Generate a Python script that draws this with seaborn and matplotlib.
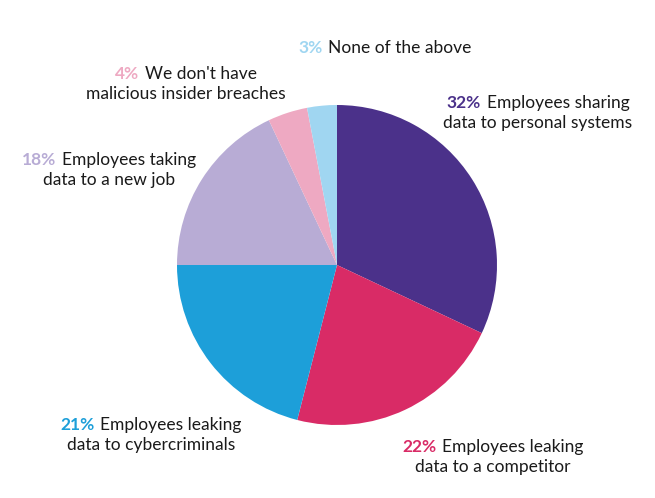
import matplotlib.pyplot as plt
import seaborn as sns
from matplotlib.offsetbox import AnnotationBbox, HPacker, TextArea, VPacker

# values
shares = [32, 22, 21, 18, 4, 3]
first_lines = ['Employees sharing', 'Employees leaking', 'Employees leaking',
               'Employees taking', "We don't have", 'None of the above']
second_lines = ['data to personal systems', 'data to a competitor', 'data to cybercriminals',
                'data to a new job', 'malicious insider breaches', None]
slice_colors = ['#4B318A', '#D92B66', '#1D9FD9', '#B8ACD5', '#EEA9C2', '#A0D6F1']

# label block centres in figure pixels (x, y from the top)
label_pos = [(538, 113), (493, 457), (151, 435), (109, 170), (186, 84), (385, 48)]

W, H = 655, 498
FONT = 'Lato'
TEXT_COLOR = '#1a1a1a'

sns.set_theme(style='white')
plt.rcParams['font.family'] = [FONT, 'DejaVu Sans']

fig = plt.figure(figsize=(W / 100, H / 100), dpi=100)
cx, cy, r = 337, 265, 160
ax = fig.add_axes([(cx - r) / W, (H - cy - r) / H, 2 * r / W, 2 * r / H])
ax.pie(shares, colors=slice_colors, startangle=90, counterclock=False,
       radius=1, wedgeprops=dict(linewidth=0))
ax.set_xlim(-1, 1)
ax.set_ylim(-1, 1)
ax.set_aspect('equal')
ax.axis('off')

fs = 12.5
for share, l1, l2, col, (px, py) in zip(shares, first_lines, second_lines, slice_colors, label_pos):
    pct = TextArea(f'{share}%', textprops=dict(color=col, fontsize=fs, fontweight='bold', family=FONT))
    rest = TextArea(l1, textprops=dict(color=TEXT_COLOR, fontsize=fs, family=FONT))
    row = HPacker(children=[pct, rest], align='baseline', pad=0, sep=4)
    rows = [row]
    if l2 is not None:
        rows.append(TextArea(l2, textprops=dict(color=TEXT_COLOR, fontsize=fs, family=FONT)))
    block = VPacker(children=rows, align='center', pad=0, sep=3)
    ab = AnnotationBbox(block, (px, H - py), xycoords='figure pixels',
                        box_alignment=(0.5, 0.5), frameon=False)
    fig.add_artist(ab)

fig.savefig('out.png', dpi=100, facecolor='white')
